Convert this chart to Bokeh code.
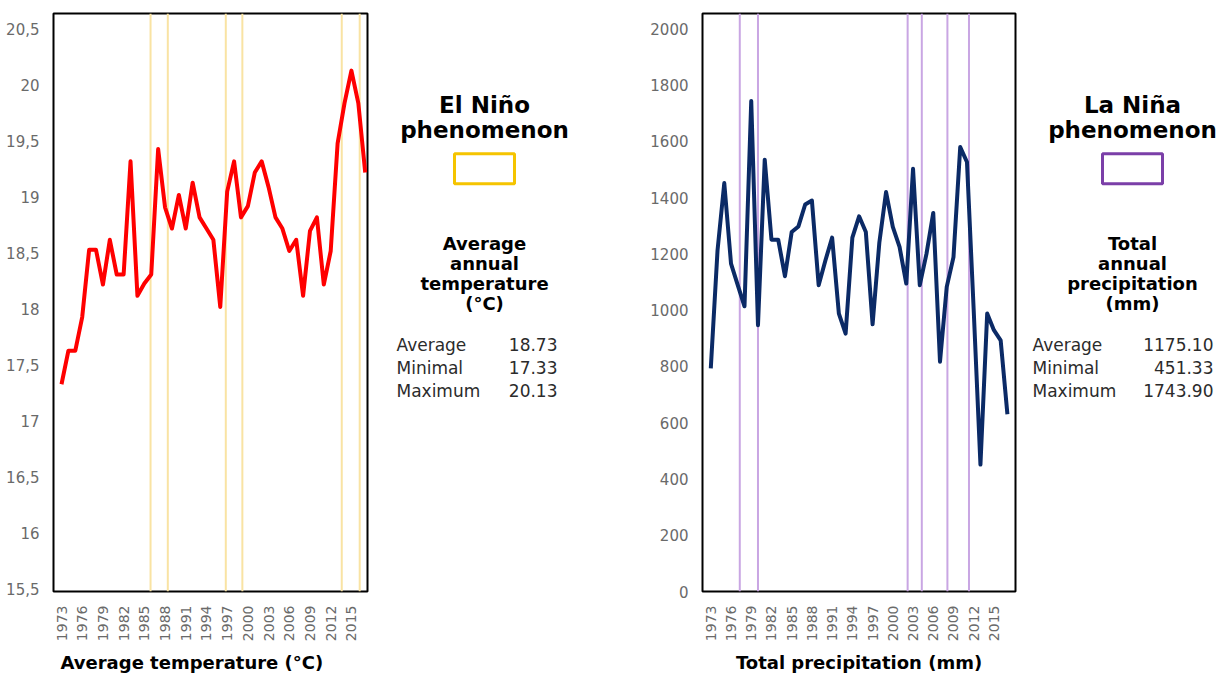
from bokeh.plotting import figure
from bokeh.layouts import row
from bokeh.models import Range1d, FixedTicker, Label, Title
from bokeh.embed import file_html
from bokeh.resources import INLINE
import math

# ---------------- data ----------------
years = list(range(1973, 2018))
temperature = [17.33, 17.63, 17.63, 17.93, 18.53, 18.53, 18.22, 18.62, 18.31, 18.31,
               19.32, 18.12, 18.23, 18.31, 19.43, 18.91, 18.72, 19.02, 18.72, 19.13,
               18.82, 18.72, 18.62, 18.02, 19.05, 19.32, 18.82, 18.92, 19.22, 19.32,
               19.09, 18.82, 18.72, 18.52, 18.62, 18.12, 18.70, 18.82, 18.22, 18.52,
               19.48, 19.84, 20.13, 19.84, 19.22]
precipitation = [793, 1213, 1452, 1166, 1089, 1014, 1743.9, 947, 1535, 1251,
                 1251, 1121, 1278, 1298, 1376, 1390, 1089, 1177, 1258, 988,
                 917, 1258, 1334, 1278, 950, 1240, 1420, 1296, 1225, 1095,
                 1503, 1089, 1201, 1346, 817, 1083, 1189, 1580, 1527, 1000,
                 451.33, 988, 929, 893, 630]
el_nino_marks = [1985.9, 1988.4, 1996.8, 1999.2, 2013.6, 2016.2]
la_nina_marks = [1977.3, 1980.0, 2002.2, 2004.3, 2008.1, 2011.3]

year_ticks = list(range(1973, 2016, 3))
temp_ticks = [15.5, 16, 16.5, 17, 17.5, 18, 18.5, 19, 19.5, 20, 20.5]
temp_tick_labels = ["15,5", "16", "16,5", "17", "17,5", "18", "18,5", "19", "19,5", "20", "20,5"]
precip_ticks = [0, 200, 400, 600, 800, 1000, 1200, 1400, 1600, 1800, 2000]

temp_stats_names = ["Average", "Minimal", "Maximum"]
temp_stats_values = ["18.73", "17.33", "20.13"]
precip_stats_names = ["Average", "Minimal", "Maximum"]
precip_stats_values = ["1175.10", "451.33", "1743.90"]

TICK_FONT = "DejaVu Sans"
BOLD_FONT = "DejaVu Sans"
TOP, BOTTOM = 13, 592  # frame edges (page pixels)


def chart(width, xr, yr, ticks, labels, border_left, border_right, line_x, line_y,
          line_color, marks, mark_color, xlabel, title_align, title_offset):
    p = figure(width=width, height=677, x_range=Range1d(*xr), y_range=Range1d(*yr),
               output_backend="svg", toolbar_location=None,
               min_border_left=border_left, min_border_right=border_right,
               min_border_top=TOP, min_border_bottom=677 - BOTTOM)
    p.grid.visible = False
    p.outline_line_color = "black"
    p.outline_line_width = 2
    p.outline_line_alpha = 1
    p.background_fill_color = "white"
    p.border_fill_color = "white"
    # vertical event lines
    p.segment(x0=marks, x1=marks, y0=[yr[0]] * len(marks), y1=[yr[1]] * len(marks),
              line_color=mark_color, line_width=2)
    p.line(line_x, line_y, line_color=line_color, line_width=4, line_join="round")

    xa = p.xaxis[0]
    xa.ticker = FixedTicker(ticks=year_ticks)
    xa.major_label_orientation = math.pi / 2
    xa.major_label_text_font = TICK_FONT
    xa.major_label_text_font_size = "14px"
    xa.major_label_text_color = "#6a6a6a"
    xa.major_label_standoff = 8
    xa.major_tick_line_color = None
    xa.minor_tick_line_color = None
    xa.axis_line_color = None

    ya = p.yaxis[0]
    ya.ticker = FixedTicker(ticks=ticks)
    if labels is not None:
        ya.major_label_overrides = {t: l for t, l in zip(ticks, labels)}
    ya.major_label_text_font = TICK_FONT
    ya.major_label_text_font_size = "15px"
    ya.major_label_text_color = "#6a6a6a"
    ya.major_label_standoff = 8
    ya.major_tick_line_color = None
    ya.minor_tick_line_color = None
    ya.axis_line_color = None

    t = Title(text=xlabel, align=title_align, offset=title_offset,
              text_font=BOLD_FONT, text_font_style="bold", text_font_size="18px",
              text_color="black", standoff=10)
    p.add_layout(t, "below")
    return p


def panel(width, header1, header2, box_color, sub_lines, names, values, cx, box_cx,
          name_x, value_x):
    # y range in page pixels, matching the frame rows of the charts
    p = figure(width=width, height=677, x_range=Range1d(0, width),
               y_range=Range1d(BOTTOM, TOP),
               output_backend="svg", toolbar_location=None,
               x_axis_location=None, y_axis_location=None,
               min_border_left=0, min_border_right=0,
               min_border_top=TOP, min_border_bottom=677 - BOTTOM)
    p.grid.visible = False
    p.outline_line_color = None
    p.background_fill_color = "white"
    p.border_fill_color = "white"
    for txt, y in zip([header1, header2], [105, 130]):
        p.add_layout(Label(x=cx, y=y, text=txt, text_align="center", text_baseline="middle",
                           text_font=BOLD_FONT, text_font_style="bold",
                           text_font_size="23px", text_color="black"))
    p.rect(x=[box_cx], y=[168.5], width=60, height=30, fill_color=None,
           line_color=box_color, line_width=3)
    for i, txt in enumerate(sub_lines):
        p.add_layout(Label(x=cx, y=243 + i * 20.3, text=txt, text_align="center",
                           text_baseline="middle", text_font=BOLD_FONT,
                           text_font_style="bold", text_font_size="18px",
                           text_color="black"))
    for i, (n, v) in enumerate(zip(names, values)):
        y = 345 + i * 23
        p.add_layout(Label(x=name_x, y=y, text=n, text_align="left", text_baseline="middle",
                           text_font=TICK_FONT, text_font_size="17px", text_color="#2b2b2b"))
        p.add_layout(Label(x=value_x, y=y, text=v, text_align="right", text_baseline="middle",
                           text_font=TICK_FONT, text_font_size="17px", text_color="#2b2b2b"))
    return p


p1 = chart(380, (1971.84, 2017.33), (15.48, 20.64), temp_ticks, temp_tick_labels, 53, 13,
           years, temperature, "#ff0000", el_nino_marks, "#f9e3a3",
           "Average temperature (\u00b0C)", "left", 7)
t1 = panel(260, "El Niño", "phenomenon", "#f5c400",
           ["Average", "annual", "temperature", "(\u00b0C)"],
           temp_stats_names, temp_stats_values, 104, 104, 16, 177)
p2 = chart(377, (1971.77, 2018.2), (0, 2055), precip_ticks, None, 62, 2,
           years, precipitation, "#0b2a66", la_nina_marks, "#c9a6e3",
           "Total precipitation (mm)", "center", 0)
t2 = panel(204, "La Niña", "phenomenon", "#7b3fa8",
           ["Total", "annual", "precipitation", "(mm)"],
           precip_stats_names, precip_stats_values, 115, 115, 15, 196)

layout = row(p1, t1, p2, t2, spacing=0)
open("out.html", "w").write(file_html(layout, INLINE))
